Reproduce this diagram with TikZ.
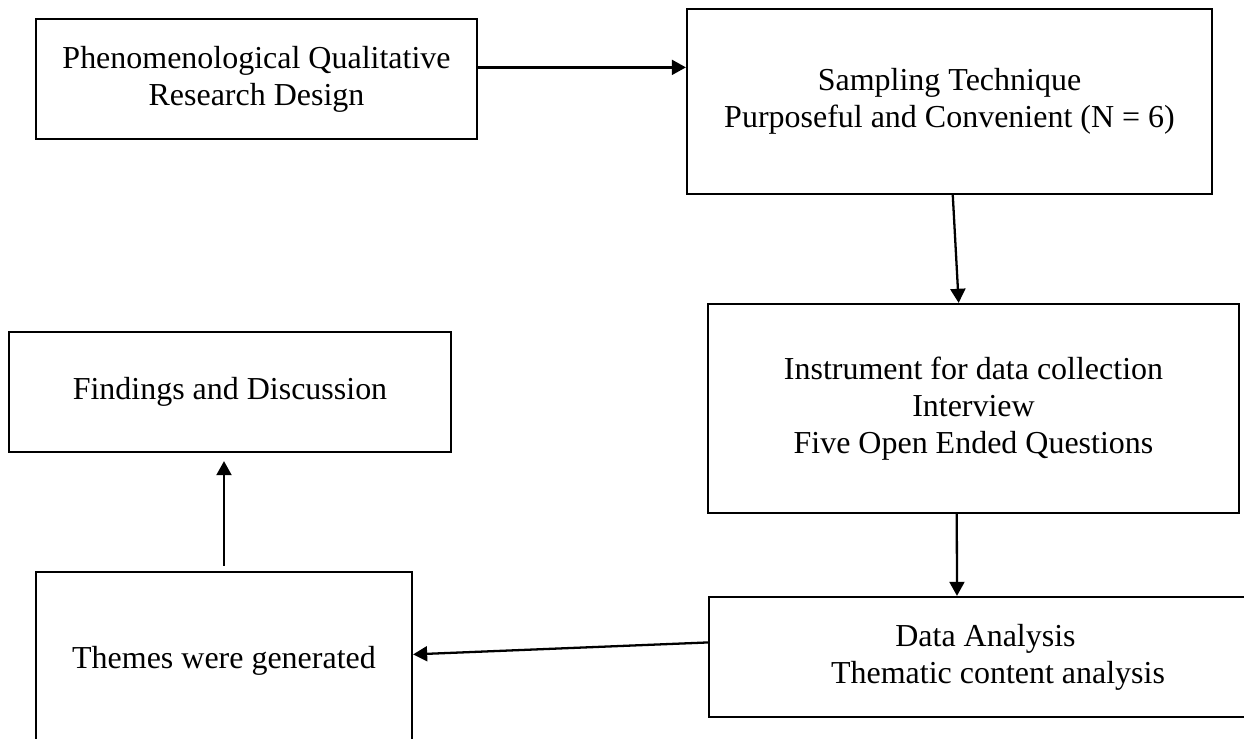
\documentclass[tikz,border=0pt]{standalone}
\usepackage{fontspec}
\setmainfont{Liberation Serif}
\usetikzlibrary{arrows.meta}

\begin{document}
\begin{tikzpicture}[x=0.02cm, y=-0.02cm, line width=1.3pt, ->, >={Triangle[length=8pt,width=8.5pt]},
	box/.style={draw, rectangle, inner sep=0pt, align=center, font=\fontsize{18.2}{21}\selectfont}]
	\useasboundingbox (0,0) rectangle (1244,739);

	\node[box, minimum width=8.82cm, minimum height=2.4cm](design) at (256.5,79) {Phenomenological Qualitative\\Research Design};
	\node[box, minimum width=10.5cm, minimum height=3.7cm](sampling) at (949.5,101.5) {Sampling Technique\\Purposeful and Convenient (N = 6)};
	\node[box, minimum width=10.62cm, minimum height=4.18cm](instrument) at (973.5,408.5) {Instrument for data collection\\Interview\\Five Open Ended Questions};
	\node[box, minimum width=11.06cm, minimum height=2.4cm](analysis) at (985.5,657) {Data Analysis\\\hspace{0.5cm}Thematic content analysis};
	\node[box, minimum width=7.52cm, minimum height=3.56cm](themes) at (224,661) {Themes were generated};
	\node[box, minimum width=8.84cm, minimum height=2.4cm](findings) at (230,392) {Findings and Discussion};

	\draw (design.3) -- (design.3 -| sampling.west);
	\draw (sampling.-88) -- (instrument.98);
	\draw (instrument.-99) -- (analysis.115);
	\draw (analysis.177) -- (themes.2.4);
	\draw[shorten <=0.1cm, shorten >=0.16cm] (themes.north) -- (themes.north |- findings.south);
\end{tikzpicture}
\end{document}
